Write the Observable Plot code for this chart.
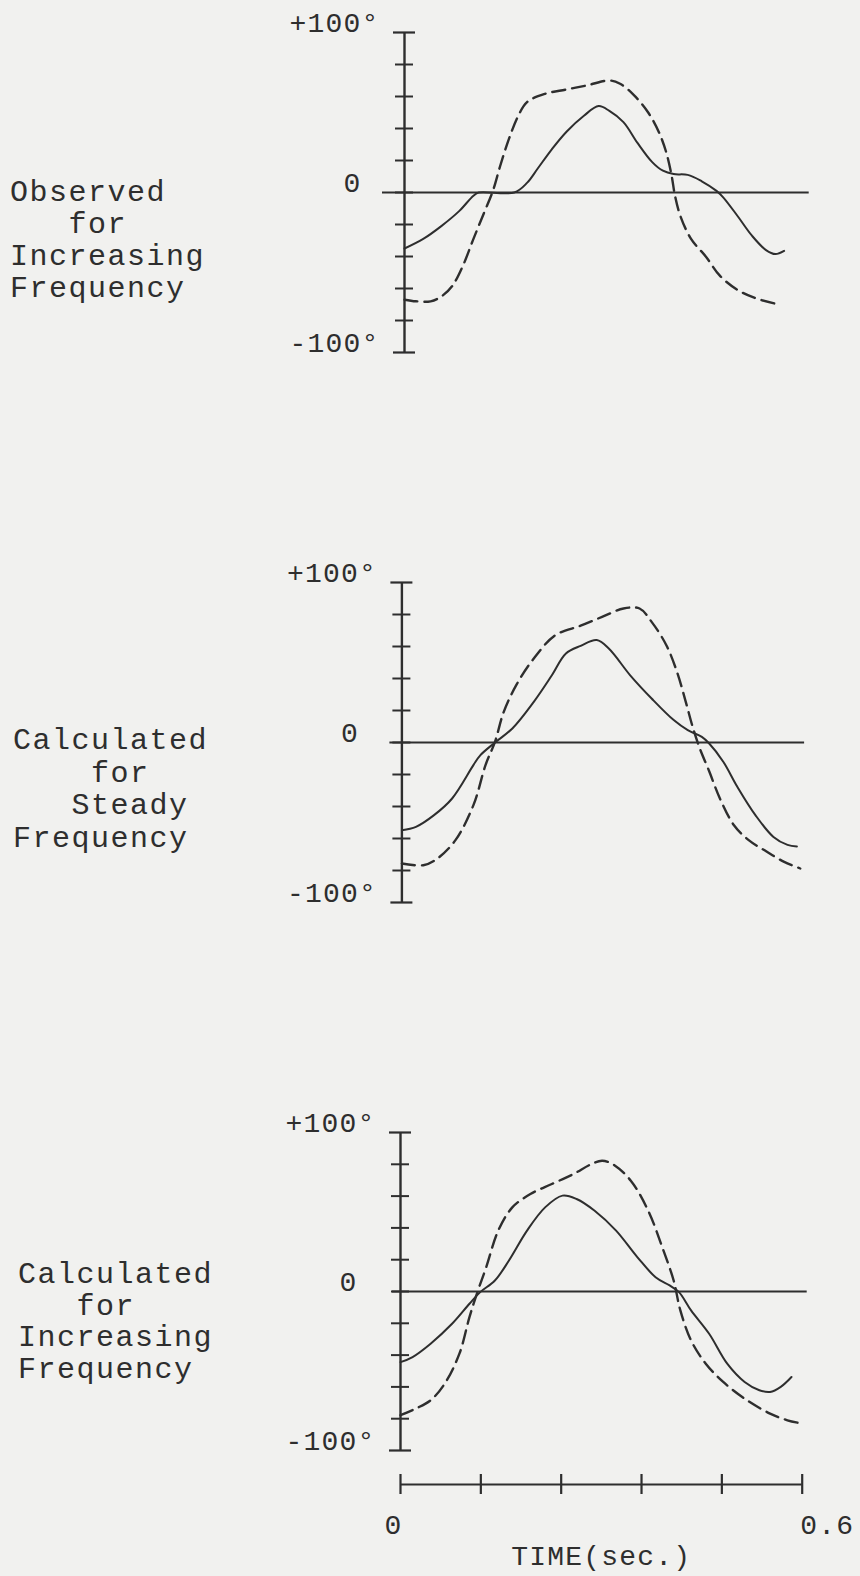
<!DOCTYPE html>
<html>
<head>
<meta charset="utf-8">
<script src="https://cdn.jsdelivr.net/npm/d3@7"></script>
<script src="https://cdn.jsdelivr.net/npm/@observablehq/plot@0.6"></script>
<style>
  html, body { margin: 0; padding: 0; background: #f1f1ef; }
  #page { position: relative; width: 860px; height: 1576px; overflow: hidden; background: #f1f1ef; }
  .panel { position: absolute; left: 0; }
  .lbl { position: absolute; margin: 0; font-family: "Liberation Mono", monospace; font-size: 30px;
         letter-spacing: 1.5px; white-space: pre; color: #2e2e2e; }
</style>
</head>
<body>
<div id="page"></div>
<script>
// ---------------- data ----------------
const panelTitles = [
  "Observed\n   for\nIncreasing\nFrequency",
  "Calculated\n    for\n   Steady\nFrequency",
  "Calculated\n   for\nIncreasing\nFrequency"
];
const degreeTicks = [-100, -80, -60, -40, -20, 0, 20, 40, 60, 80, 100];
const degreeLabelTicks = [-100, 0, 100];
const degreeLabels = ["-100°", "0\u00a0", "+100°"];
const timeTicks = [0, 0.12, 0.24, 0.36, 0.48, 0.6];
const timeLabelTicks = [0, 0.6];
const timeLabels = ["0", "0.6"];
const timeTitle = "TIME(sec.)";

// [time (s), phase (deg)]
const observedSolid = [[0,-35],[0.028,-29],[0.055,-21],[0.082,-11.5],[0.103,-2],[0.111,0],[0.164,0],[0.183,6],[0.199,15],[0.220,27],[0.242,38],[0.268,48],[0.290,54],[0.306,51],[0.327,44],[0.348,31],[0.370,19],[0.386,13.6],[0.402,11.5],[0.423,11],[0.444,7],[0.466,1],[0.476,-3],[0.498,-15],[0.519,-27],[0.540,-36],[0.554,-38.5],[0.567,-36.5]];
const observedDashed = [[0,-67],[0.017,-68],[0.039,-68],[0.055,-65],[0.071,-58.6],[0.087,-46],[0.103,-29],[0.119,-12.5],[0.132,1],[0.143,16.7],[0.156,33.5],[0.170,48],[0.183,56.5],[0.210,61.7],[0.242,64.4],[0.273,67],[0.306,70],[0.322,68],[0.343,60.7],[0.364,50],[0.380,37.7],[0.391,25],[0.399,10.5],[0.404,-2],[0.412,-14.6],[0.428,-29],[0.450,-40],[0.471,-52],[0.498,-61],[0.524,-66],[0.554,-69.5]];
const steadySolid = [[0,-54.8],[0.021,-52.7],[0.048,-45.4],[0.075,-35],[0.107,-14],[0.117,-8],[0.139,0],[0.165,8.75],[0.197,25.4],[0.224,42],[0.245,55.6],[0.267,60.4],[0.291,64],[0.309,58.75],[0.341,42],[0.373,27.5],[0.406,14],[0.427,7.7],[0.448,3.5],[0.459,-0.6],[0.480,-12],[0.501,-27.7],[0.528,-45.4],[0.555,-59],[0.576,-64],[0.590,-65]];
const steadyDashed = [[0,-75.6],[0.032,-76.7],[0.053,-72.5],[0.080,-61],[0.107,-39],[0.125,-14],[0.139,0.4],[0.152,19],[0.171,36],[0.197,52.5],[0.229,67],[0.267,73],[0.299,78.5],[0.331,83.75],[0.355,83.75],[0.373,75.4],[0.395,60.8],[0.411,44],[0.424,25.4],[0.435,8.75],[0.445,-3.75],[0.459,-18],[0.475,-35],[0.496,-51.7],[0.518,-61],[0.544,-68],[0.571,-74.6],[0.595,-78.75]];
const increasingSolid = [[0,-44.4],[0.018,-41.2],[0.045,-32.8],[0.077,-20.3],[0.103,-7.7],[0.119,-0.4],[0.141,6.9],[0.162,19.5],[0.189,38.3],[0.216,52.9],[0.242,60.3],[0.263,58.2],[0.290,50.8],[0.322,38.3],[0.354,21.5],[0.381,9],[0.402,3.8],[0.416,-0.4],[0.434,-11.9],[0.461,-26.6],[0.488,-45.4],[0.514,-56.9],[0.536,-62.1],[0.552,-63.2],[0.568,-60],[0.584,-53.8]];
const increasingDashed = [[0,-77.8],[0.023,-73.6],[0.045,-68.4],[0.066,-58],[0.088,-39.1],[0.103,-16.1],[0.114,-1.5],[0.128,15.3],[0.146,38.3],[0.167,52.9],[0.194,61.3],[0.226,67.6],[0.258,73.8],[0.285,80.1],[0.301,82.2],[0.317,80.1],[0.344,69.7],[0.370,50.8],[0.391,27.8],[0.408,6.9],[0.418,-11.9],[0.434,-30.8],[0.456,-45.4],[0.482,-56.9],[0.514,-67.4],[0.552,-76.8],[0.578,-81],[0.6,-83.1]];

const panelSeries = [
  [observedSolid, observedDashed],
  [steadySolid, steadyDashed],
  [increasingSolid, increasingDashed]
];

// ---------------- layout ----------------
const INK = "#2e2e2e";
const PX_PER_SEC = 669.5;
const layout = [
  {top: 0,    height: 400, mt: 32,  mb: 48,  ml: 404,   zl: -22, zr: -3, title: {left: 10, top: 177, lh: 32}},
  {top: 540,  height: 420, mt: 42,  mb: 58,  ml: 401.4, zl: -12, zr: -1, title: {left: 13, top: 725, lh: 32.5}},
  {top: 1090, height: 370, mt: 42,  mb: 10,  ml: 400,   zl: -8,  zr: -5, title: {left: 18, top: 1260, lh: 31.5}}
];

const page = document.getElementById("page");
const fmtDeg = d => degreeLabels[degreeLabelTicks.indexOf(d)];
const svgStyle = {background: "transparent", fontFamily: "'Liberation Mono', monospace", fontSize: "28px", color: INK, overflow: "visible", letterSpacing: "1.2px"};

layout.forEach((L, i) => {
  const [solid, dashed] = panelSeries[i];
  const width = 860;
  const mr = width - L.ml - PX_PER_SEC * 0.6;
  const chart = Plot.plot({
    width, height: L.height,
    marginTop: L.mt, marginBottom: L.mb, marginLeft: L.ml, marginRight: mr,
    style: svgStyle,
    x: {domain: [0, 0.6], axis: null},
    y: {domain: [-100, 100]},
    marks: [
      Plot.ruleY([0], {stroke: INK, strokeWidth: 1.8, insetLeft: L.zl, insetRight: L.zr}),
      Plot.ruleX([0], {stroke: INK, strokeWidth: 2.4}),
      Plot.axisY({ticks: degreeTicks.filter(d => Math.abs(d) < 100), tickSize: 18, dx: 9, fill: "none", stroke: INK, strokeWidth: 2, label: null}),
      Plot.axisY({ticks: [-100, 100], tickSize: 22, dx: 11, fill: "none", stroke: INK, strokeWidth: 2.2, label: null}),
      Plot.axisY({ticks: degreeLabelTicks, tickSize: 0, tickPadding: 25, dy: -9, tickFormat: fmtDeg, fill: INK, label: null}),
      Plot.line(solid, {x: d => d[0], y: d => d[1], curve: "catmull-rom", stroke: INK, strokeWidth: 2}),
      Plot.line(dashed, {x: d => d[0], y: d => d[1], curve: "catmull-rom", stroke: INK, strokeWidth: 2.4, strokeDasharray: "13,7"})
    ]
  });
  chart.classList.add("panel");
  chart.style.top = L.top + "px";
  chart.style.position = "absolute";
  page.appendChild(chart);

  const t = document.createElement("div");
  t.className = "lbl";
  t.textContent = panelTitles[i];
  t.style.left = L.title.left + "px";
  t.style.top = L.title.top + "px";
  t.style.lineHeight = L.title.lh + "px";
  page.appendChild(t);
});

// time axis (shared, below the last panel)
{
  const ml = 400, width = 860;
  const mr = width - ml - PX_PER_SEC * 0.6;
  const axis = Plot.plot({
    width, height: 116,
    marginTop: 14, marginBottom: 82, marginLeft: ml, marginRight: mr,
    style: svgStyle,
    x: {domain: [0, 0.6], axis: null},
    y: {domain: [-1, 1], axis: null},
    marks: [
      Plot.ruleY([0], {stroke: INK, strokeWidth: 1.8}),
      Plot.tickX(timeTicks, {x: d => d, stroke: INK, strokeWidth: 2.2}),
      Plot.text([timeLabelTicks[0]], {x: d => d, text: d => timeLabels[timeLabelTicks.indexOf(d)], frameAnchor: "bottom", lineAnchor: "bottom", dy: 39, dx: -7, fill: INK}),
      Plot.text([timeLabelTicks[1]], {x: d => d, text: d => timeLabels[timeLabelTicks.indexOf(d)], frameAnchor: "bottom", lineAnchor: "bottom", textAnchor: "start", dy: 39, dx: -2, fill: INK}),
      Plot.text([timeTitle], {text: d => d, frameAnchor: "bottom", lineAnchor: "bottom", dy: 70, fill: INK, letterSpacing: "2px"})
    ]
  });
  axis.style.position = "absolute";
  axis.style.top = "1460px";
  axis.style.left = "0px";
  page.appendChild(axis);
}
</script>
</body>
</html>
